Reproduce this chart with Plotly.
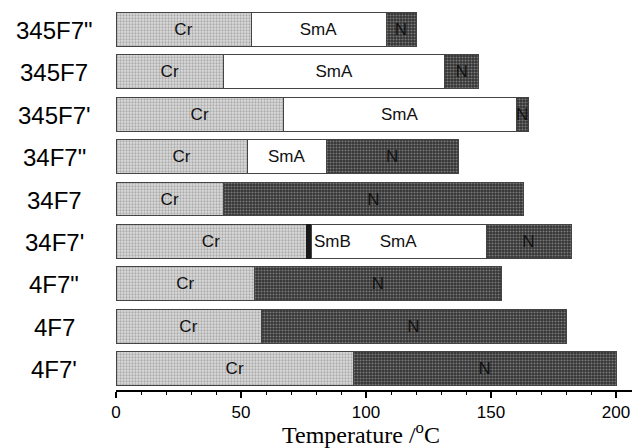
import numpy as np
import plotly.graph_objects as go

# ---- data (temperatures in °C) ----
compounds = ['345F7"', "345F7", "345F7'", '34F7"', "34F7", "34F7'", '4F7"', "4F7", "4F7'"]
cr_end = [54, 43, 67, 52.5, 43, 76, 55.5, 58, 95]            # melting point
smb_end = [None, None, None, None, None, 78, None, None, None]  # SmB -> SmA
sma_end = [108, 131.5, 160, 84, None, 148, None, None, None]    # SmA -> N
n_end = [120, 145, 165, 137, 163, 182, 154, 180, 200]          # clearing point
tick_vals = [0, 50, 100, 150, 200]

# ---- build stacked segment widths ----
cr = np.array(cr_end, dtype=float)
smb_top = np.array([s if s is not None else c for s, c in zip(smb_end, cr_end)], dtype=float)
sma_top = np.array([a if a is not None else b for a, b in zip(sma_end, smb_top)], dtype=float)
n_top = np.array(n_end, dtype=float)
w_cr = cr
w_smb = smb_top - cr
w_sma = sma_top - smb_top
w_n = n_top - sma_top

def labels(widths, name):
    return [name if w > 0 else " " for w in widths]

fig = go.Figure()
seg_font = dict(family="Liberation Sans, Arial", size=17, color="#111111")
common = dict(orientation="h", y=compounds, width=0.8, textposition="inside",
              insidetextanchor="middle", textangle=0, constraintext="none",
              textfont=seg_font, insidetextfont=seg_font, cliponaxis=False,
              hoverinfo="skip")

fig.add_trace(go.Bar(x=w_cr, text=labels(w_cr, "Cr"), name="Cr",
                     marker=dict(color="#dcdcdc",
                                 line=dict(color="#444444", width=1),
                                 pattern=dict(shape=".", fgcolor="#7a7a7a",
                                              bgcolor="#dcdcdc", size=3, solidity=0.45)),
                     **common))
fig.add_trace(go.Bar(x=w_smb, text=[" "] * len(w_smb), name="SmB",
                     marker=dict(color="#1a1a1a", line=dict(color="#1a1a1a", width=1)),
                     **common))
fig.add_trace(go.Bar(x=w_sma, text=labels(w_sma, "SmA"), name="SmA",
                     marker=dict(color="white", line=dict(color="#444444", width=1)),
                     **common))
fig.add_trace(go.Bar(x=w_n, text=labels(w_n, "N"), name="N",
                     marker=dict(color="#333333",
                                 line=dict(color="#444444", width=1),
                                 pattern=dict(shape=".", fgcolor="#c0c0c0",
                                              bgcolor="#333333", size=3, solidity=0.4)),
                     **common))

annotations = []
# SmB label placed just right of the SmB strip
for comp, s in zip(compounds, smb_end):
    if s is not None:
        annotations.append(dict(x=s, y=comp, xref="x", yref="y", text="SmB",
                                showarrow=False, xanchor="left", xshift=1,
                                font=seg_font))
# compound labels, centred left of the plot
for comp in compounds:
    annotations.append(dict(x=-0.118, y=comp, xref="paper", yref="y", text=comp,
                            showarrow=False, xanchor="center", yanchor="middle",
                            yshift=-1,
                            font=dict(family="Liberation Sans, Arial", size=24, color="black")))
# axis title
annotations.append(dict(x=98, y=0, xref="x", yref="paper",
                        text="Temperature /<sup>o</sup>C", showarrow=False,
                        xanchor="center", yanchor="middle", yshift=-43,
                        font=dict(family="Liberation Serif, Times New Roman", size=24, color="black")))

# page body has an 8px default margin, so the figure is 8px smaller
fig.update_layout(
    width=632, height=440,
    margin=dict(l=108, r=0, t=0, b=58),
    barmode="stack", bargap=0.2,
    showlegend=False,
    plot_bgcolor="white", paper_bgcolor="white",
    annotations=annotations,
    xaxis=dict(range=[0, 209.6], tickvals=tick_vals, ticktext=[str(t) for t in tick_vals],
               showgrid=False, zeroline=False, showline=True, linecolor="black", linewidth=1.5,
               ticks="outside", ticklen=6, tickwidth=1.5, tickcolor="black",
               minor=dict(dtick=10, ticks="outside", ticklen=3, tickwidth=1, tickcolor="black",
                          showgrid=False),
               tickfont=dict(family="Liberation Sans, Arial", size=17, color="black")),
    yaxis=dict(range=[8.5, -0.5], showticklabels=False, showgrid=False, zeroline=False,
               showline=False, ticks=""),
)

fig.write_html("out.html")
